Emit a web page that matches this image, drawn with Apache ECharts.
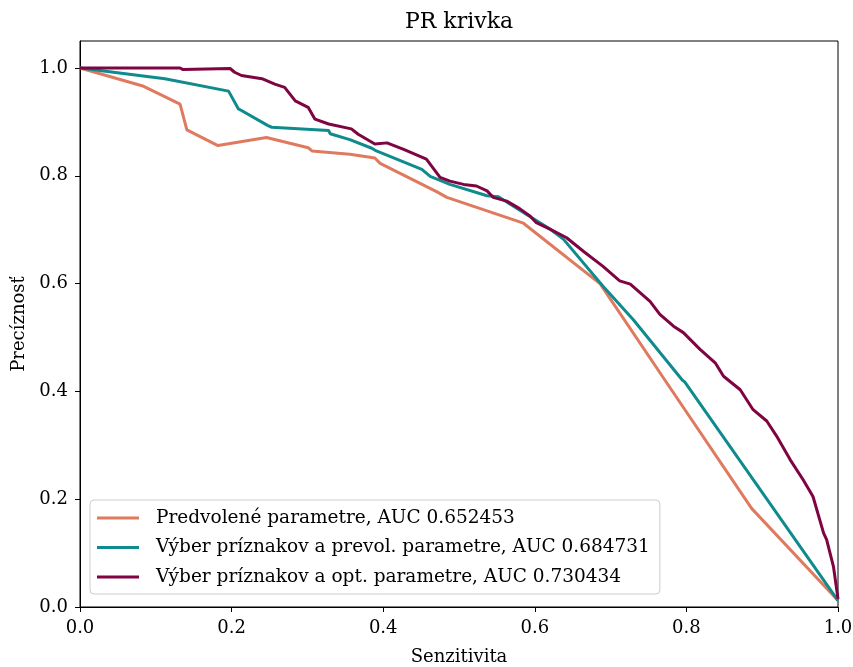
<!DOCTYPE html>
<html>
<head>
<meta charset="utf-8">
<script src="https://cdn.jsdelivr.net/npm/echarts@6/dist/echarts.min.js"></script>
<style>html,body{margin:0;padding:0;background:#fff;}#c{width:853px;height:667px;}</style>
</head>
<body>
<div id="c"></div>
<script>
const seriesNames = [
  'Predvolené parametre, AUC 0.652453',
  'Výber príznakov a prevol. parametre, AUC 0.684731',
  'Výber príznakov a opt. parametre, AUC 0.730434'
];
const tickValues = [0, 0.2, 0.4, 0.6, 0.8, 1.0];

const recallDefault = [0, 0.084, 0.132, 0.141, 0.182, 0.246, 0.301, 0.306, 0.356, 0.389, 0.396, 0.471, 0.484, 0.585, 0.686, 0.774, 0.886, 1.0];
const precisionDefault = [1.0, 0.966, 0.933, 0.885, 0.856, 0.871, 0.852, 0.846, 0.840, 0.833, 0.823, 0.770, 0.760, 0.712, 0.600, 0.416, 0.183, 0.012];

const recallFeat = [0, 0.112, 0.196, 0.209, 0.213, 0.248, 0.253, 0.328, 0.330, 0.356, 0.385, 0.391, 0.451, 0.462, 0.488, 0.537, 0.552, 0.585, 0.620, 0.638, 0.690, 0.730, 0.794, 0.798, 1.0];
const precisionFeat = [1.0, 0.980, 0.957, 0.924, 0.921, 0.893, 0.890, 0.884, 0.878, 0.867, 0.851, 0.846, 0.812, 0.799, 0.784, 0.763, 0.761, 0.732, 0.701, 0.682, 0.595, 0.533, 0.422, 0.417, 0.012];

const recallOpt = [0, 0.132, 0.136, 0.198, 0.204, 0.213, 0.240, 0.257, 0.270, 0.284, 0.301, 0.310, 0.328, 0.358, 0.367, 0.389, 0.405, 0.427, 0.457, 0.475, 0.488, 0.506, 0.523, 0.537, 0.545, 0.563, 0.580, 0.594, 0.602, 0.620, 0.642, 0.664, 0.690, 0.712, 0.726, 0.752, 0.765, 0.783, 0.796, 0.818, 0.838, 0.849, 0.871, 0.888, 0.906, 0.919, 0.937, 0.954, 0.967, 0.981, 0.985, 0.994, 1.0];
const precisionOpt = [1.0, 1.0, 0.997, 0.999, 0.992, 0.986, 0.980, 0.970, 0.964, 0.939, 0.927, 0.905, 0.896, 0.887, 0.877, 0.859, 0.861, 0.849, 0.831, 0.797, 0.790, 0.784, 0.781, 0.772, 0.760, 0.753, 0.739, 0.725, 0.713, 0.701, 0.685, 0.660, 0.632, 0.605, 0.599, 0.567, 0.543, 0.521, 0.509, 0.478, 0.453, 0.428, 0.403, 0.366, 0.345, 0.317, 0.273, 0.236, 0.205, 0.137, 0.125, 0.075, 0.015];

const colors = ['#E07A5F', '#0F8B8D', '#7F0442'];
const FONT = 'DejaVu Serif';

function pairs(xs, ys) { return xs.map((x, i) => [x, ys[i]]); }

const chart = echarts.init(document.getElementById('c'), null, {renderer: 'canvas', width: 853, height: 667});
const axisCommon = {
  axisLine: {show: true, lineStyle: {color: '#000', width: 1}},
  axisTick: {show: true, inside: false, length: 5, lineStyle: {color: '#000', width: 1}, customValues: tickValues},
  splitLine: {show: false},
  nameTextStyle: {fontFamily: FONT, fontSize: 18, color: '#000'}
};
chart.setOption({
  animation: false,
  backgroundColor: '#fff',
  title: {
    text: 'PR krivka', left: 400, top: 6,
    textStyle: {fontFamily: FONT, fontSize: 22, fontWeight: 'normal', color: '#000'}
  },
  grid: {left: 80, right: 15, top: 41, bottom: 60, show: true, borderColor: '#000', borderWidth: 1, backgroundColor: 'transparent', containLabel: false, outerBoundsMode: 'none'},
  xAxis: Object.assign({}, axisCommon, {
    type: 'value', min: 0, max: 1, interval: 0.2,
    name: 'Senzitivita', nameLocation: 'middle', nameGap: 41,
    axisLabel: {customValues: tickValues, margin: 12, fontFamily: FONT, fontSize: 18, color: '#000', formatter: v => v.toFixed(1)}
  }),
  yAxis: Object.assign({}, axisCommon, {
    type: 'value', min: 0, max: 1.05,
    name: 'Precíznosť', nameLocation: 'middle', nameGap: 52,
    axisLabel: {customValues: tickValues, margin: 12, fontFamily: FONT, fontSize: 18, color: '#000', formatter: v => v.toFixed(1)}
  }),
  legend: {
    orient: 'vertical', left: 90, top: 500,
    padding: [8, 10, 7, 7], itemGap: 9.5,
    itemWidth: 42, itemHeight: 3, icon: 'rect',
    backgroundColor: 'rgba(255,255,255,0.8)', borderColor: '#cccccc', borderWidth: 1, borderRadius: 4,
    textStyle: {fontFamily: FONT, fontSize: 18.5, color: '#000', lineHeight: 20, padding: [0, 0, 0, 12]},
    data: seriesNames
  },
  color: colors,
  series: [
    {name: seriesNames[0], type: 'line', data: pairs(recallDefault, precisionDefault), showSymbol: false, lineStyle: {width: 3, color: colors[0]}, itemStyle: {color: colors[0]}},
    {name: seriesNames[1], type: 'line', data: pairs(recallFeat, precisionFeat), showSymbol: false, lineStyle: {width: 3, color: colors[1]}, itemStyle: {color: colors[1]}},
    {name: seriesNames[2], type: 'line', data: pairs(recallOpt, precisionOpt), showSymbol: false, lineStyle: {width: 3, color: colors[2]}, itemStyle: {color: colors[2]}}
  ]
});
</script>
</body>
</html>
